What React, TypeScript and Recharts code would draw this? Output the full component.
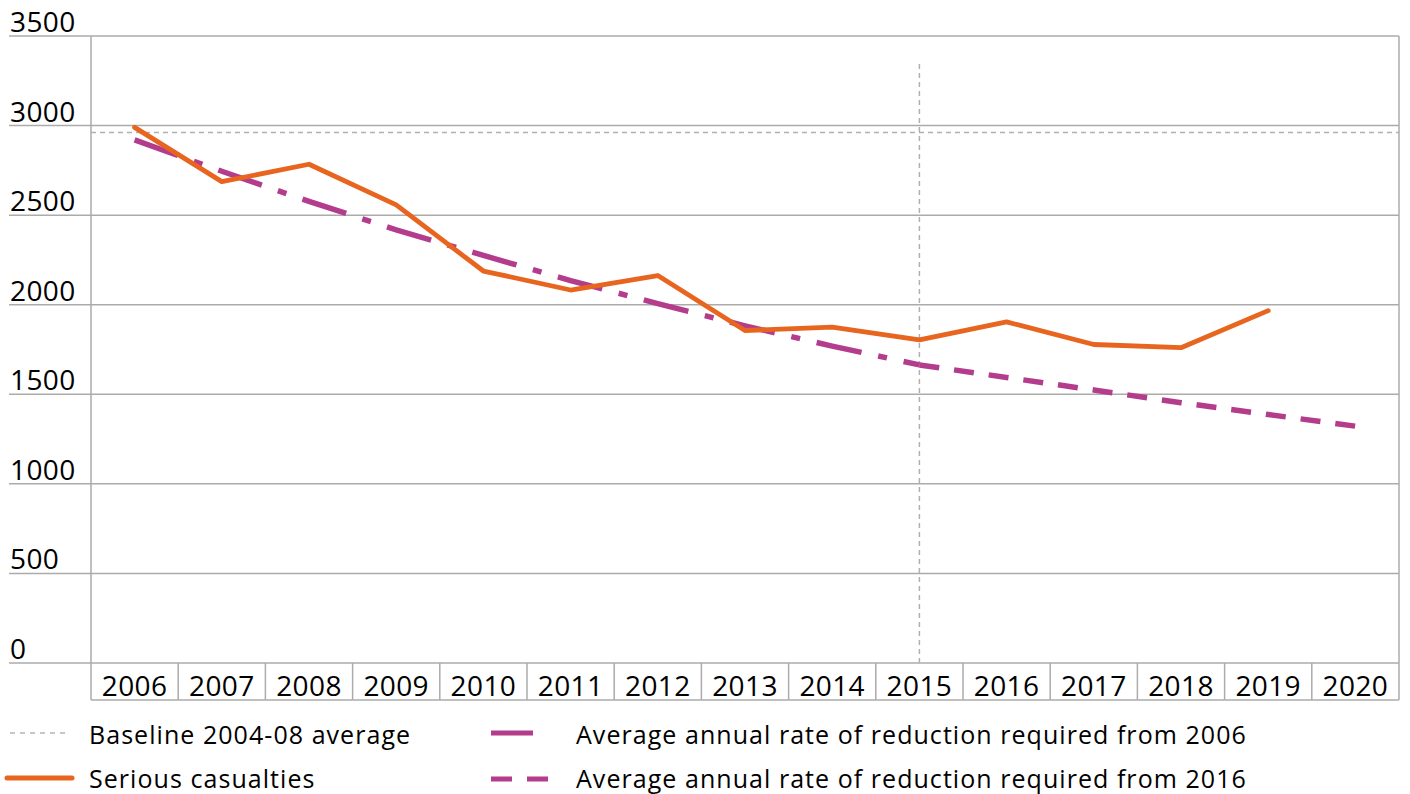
import React from 'react';
import { LineChart, Line, XAxis, YAxis, CartesianGrid, ReferenceLine } from 'recharts';

const years = ['2006', '2007', '2008', '2009', '2010', '2011', '2012', '2013', '2014', '2015', '2016', '2017', '2018', '2019', '2020'];
const seriousCasualties = [2990, 2687, 2784, 2557, 2188, 2082, 2163, 1856, 1875, 1804, 1904, 1778, 1760, 1967, null];
const reductionFrom2006 = [2920, 2745, 2577, 2418, 2275, 2135, 2006, 1882, 1769, 1664, null, null, null, null, null];
const reductionFrom2016 = [null, null, null, null, null, null, null, null, null, 1664, 1594, 1524, 1453, 1387, 1322];
const baselineValue = 2962;
const markerYear = '2015';
const markerTop = 3350;
const yTicks = [0, 500, 1000, 1500, 2000, 2500, 3000, 3500];

const legendLeft = ['Baseline 2004-08 average', 'Serious casualties'];
const legendRight = ['Average annual rate of reduction required from 2006', 'Average annual rate of reduction required from 2016'];

const data = years.map((y, i) => ({
  year: y,
  serious: seriousCasualties[i],
  r2006: reductionFrom2006[i],
  r2016: reductionFrom2016[i],
}));

const W = 1410;
const H = 794;
const M = { top: 36, right: 11, left: 0, bottom: 94 };
const Y_AXIS_W = 91;
const X_AXIS_H = 37;
const plotLeft = M.left + Y_AXIS_W;
const plotRight = W - M.right;
const plotTop = M.top;
const plotBottom = H - M.bottom - X_AXIS_H;
const bandW = (plotRight - plotLeft) / years.length;

const GRID = '#ababab';
const ORANGE = '#E7651F';
const PURPLE = '#B43C8C';
const FONT = '"Open Sans", sans-serif';

const YTick = (props: any) => {
  const { y, payload } = props;
  return (
    <g>
      <line x1={9} x2={plotLeft} y1={y} y2={y} stroke={GRID} strokeWidth={1.5} />
      <text x={10} y={y - 4} fontSize={28} fontFamily={FONT} fill="#000" letterSpacing={0.4}>
        {payload.value}
      </text>
    </g>
  );
};

const XTick = (props: any) => {
  const { x, payload, index } = props;
  const left = x - bandW / 2;
  const right = x + bandW / 2;
  const bottom = plotBottom + X_AXIS_H;
  const isLast = index === years.length - 1;
  return (
    <g>
      <line x1={left} x2={left} y1={plotBottom} y2={bottom} stroke={GRID} strokeWidth={1.5} />
      {isLast && <line x1={right} x2={right} y1={plotTop} y2={bottom} stroke={GRID} strokeWidth={1.5} />}
      <line x1={left} x2={right} y1={bottom} y2={bottom} stroke={GRID} strokeWidth={1.5} />
      <text x={x} y={plotBottom + 33} textAnchor="middle" fontSize={28} fontFamily={FONT} fill="#000" letterSpacing={0.4}>
        {payload.value}
      </text>
    </g>
  );
};

const LegendOverlay = () => {
  const fs = 25;
  const ls = 1.05;
  return (
    <svg width={W} height={94} style={{ position: 'absolute', left: 0, top: 700 }}>
      <line x1={10} x2={68} y1={33} y2={33} stroke="#b5b5b5" strokeWidth={1.5} strokeDasharray="5 5" />
      <text x={89} y={44} fontSize={fs} fontFamily={FONT} letterSpacing={ls} fill="#000">{legendLeft[0]}</text>
      <line x1={7} x2={72} y1={78} y2={78} stroke={ORANGE} strokeWidth={5} strokeLinecap="round" />
      <text x={89} y={88} fontSize={fs} fontFamily={FONT} letterSpacing={ls} fill="#000">{legendLeft[1]}</text>
      <line x1={491} x2={533} y1={33} y2={33} stroke={PURPLE} strokeWidth={5} />
      <text x={576} y={44} fontSize={fs} fontFamily={FONT} letterSpacing={ls} fill="#000">{legendRight[0]}</text>
      <line x1={491} x2={549} y1={79} y2={79} stroke={PURPLE} strokeWidth={5} strokeDasharray="21 15" />
      <text x={576} y={88} fontSize={fs} fontFamily={FONT} letterSpacing={ls} fill="#000">{legendRight[1]}</text>
    </svg>
  );
};

export default function App() {
  return (
    <div style={{ position: 'absolute', left: 0, top: 0, width: W, height: H, background: '#fff' }}>
      <LineChart width={W} height={H} data={data} margin={M}>
        <CartesianGrid horizontal vertical={false} stroke={GRID} strokeWidth={1.5} />
        <XAxis
          dataKey="year"
          scale="band"
          height={X_AXIS_H}
          axisLine={false}
          tickLine={false}
          interval={0}
          tick={<XTick />}
        />
        <YAxis
          domain={[0, 3500]}
          ticks={yTicks}
          width={Y_AXIS_W}
          axisLine={{ stroke: GRID, strokeWidth: 1.5 }}
          tickLine={false}
          tick={<YTick />}
          interval={0}
        />
        <ReferenceLine y={baselineValue} stroke="#b0b0b0" strokeWidth={1.5} strokeDasharray="5 4" />
        <ReferenceLine
          segment={[{ x: markerYear, y: 0 }, { x: markerYear, y: markerTop }]}
          stroke="#b0b0b0"
          strokeWidth={1.5}
          strokeDasharray="5 4"
        />
        <Line
          dataKey="r2006"
          stroke={PURPLE}
          strokeWidth={5.5}
          strokeDasharray="46 17 9 17"
          dot={false}
          activeDot={false}
          isAnimationActive={false}
          connectNulls={false}
        />
        <Line
          dataKey="r2016"
          stroke={PURPLE}
          strokeWidth={5.5}
          strokeDasharray="20 15"
          dot={false}
          activeDot={false}
          isAnimationActive={false}
        />
        <Line
          dataKey="serious"
          stroke={ORANGE}
          strokeWidth={4.8}
          strokeLinecap="round"
          strokeLinejoin="round"
          dot={false}
          activeDot={false}
          isAnimationActive={false}
        />
      </LineChart>
      <LegendOverlay />
    </div>
  );
}
